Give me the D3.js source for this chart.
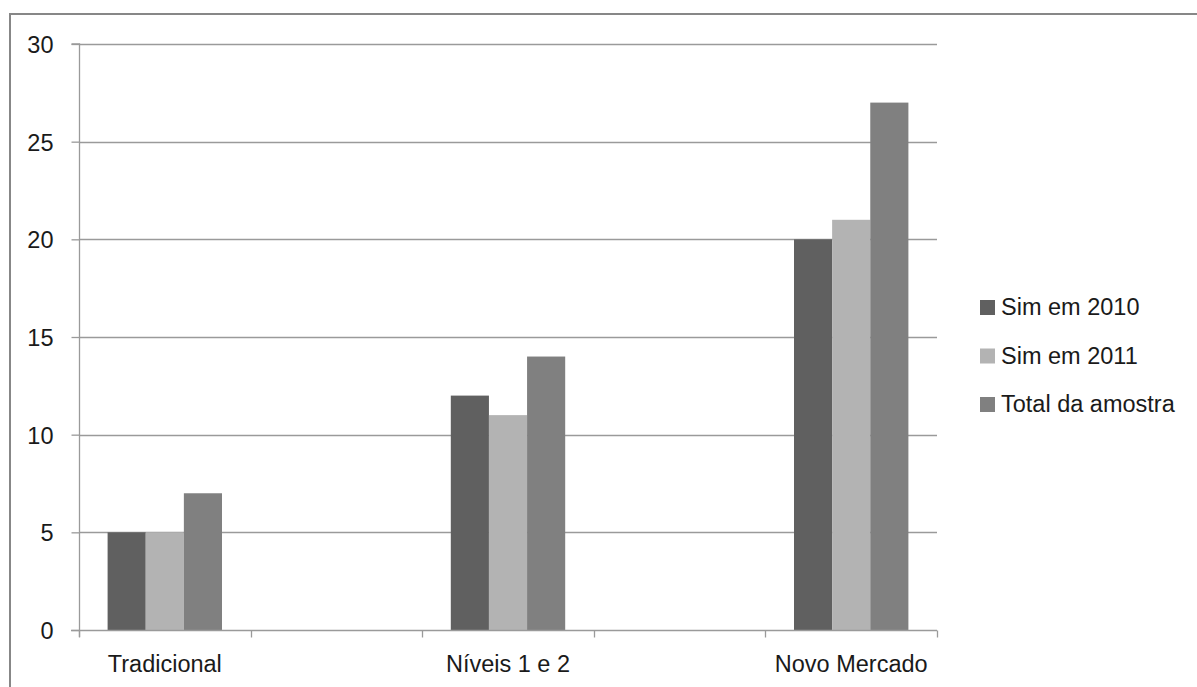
<!DOCTYPE html>
<html>
<head>
<meta charset="utf-8">
<script src="https://cdn.jsdelivr.net/npm/d3@7"></script>
<style>
  html, body { margin: 0; padding: 0; background: #fff; }
  svg { display: block; }
  text { font-family: "Liberation Sans", Arial, sans-serif; fill: #1a1a1a; }
</style>
</head>
<body>
<svg id="chart" width="1197" height="687"></svg>
<script>
// ---- data ----
const categories = ["Tradicional", "", "Níveis 1 e 2", " ", "Novo Mercado"];
const seriesNames = ["Sim em 2010", "Sim em 2011", "Total da amostra"];
const sim2010 = [5, null, 12, null, 20];
const sim2011 = [5, null, 11, null, 21];
const totalAmostra = [7, null, 14, null, 27];
const yTicks = [0, 5, 10, 15, 20, 25, 30];
const colors = ["#606060", "#b3b3b3", "#808080"];

const seriesValues = [sim2010, sim2011, totalAmostra];

(function () {
const svg = d3.select("#chart");
const W = 1197, H = 687;
const mLeft = 79, mRight = 937, mTop = 44, mBottom = 630;
const gridColor = "#9a9a9a";
const fs = 23.5;

// outer frame (extends past right/bottom edges)
svg.append("rect")
  .attr("x", 10).attr("y", 14)
  .attr("width", W + 20).attr("height", H + 20)
  .attr("fill", "none").attr("stroke", "#878787").attr("stroke-width", 2);

const x = d3.scaleBand().domain(categories).range([mLeft, mRight]).paddingInner(0).paddingOuter(0);
const y = d3.scaleLinear().domain([0, 30]).range([mBottom, mTop]);
const inner = d3.scaleBand().domain(seriesNames)
  .range([0, x.bandwidth()]).paddingOuter(0.75).paddingInner(0);

// gridlines
svg.append("g").selectAll("line").data(yTicks.filter(d => d > 0)).join("line")
  .attr("x1", mLeft).attr("x2", mRight)
  .attr("y1", d => Math.round(y(d)) + 0.5).attr("y2", d => Math.round(y(d)) + 0.5)
  .attr("stroke", gridColor).attr("stroke-width", 1.3);

// bars
const data = [];
categories.forEach((c, i) => {
  seriesNames.forEach((s, j) => {
    const v = seriesValues[j][i];
    if (v != null) data.push({ c, s, v, j });
  });
});
svg.append("g").selectAll("rect").data(data).join("rect")
  .attr("x", d => x(d.c) + inner(d.s))
  .attr("width", inner.bandwidth())
  .attr("y", d => y(d.v))
  .attr("height", d => y(0) - y(d.v))
  .attr("fill", d => colors[d.j]);

// y axis
const yAxis = d3.axisLeft(y).tickValues(yTicks).tickSize(8).tickPadding(18).tickFormat(d3.format("d"));
const gy = svg.append("g").attr("transform", `translate(${mLeft + 0.5},0)`).call(yAxis);
gy.select(".domain").attr("d", `M-8,${mTop}H0V${mBottom + 7}`).attr("stroke", gridColor).attr("stroke-width", 1.3);
gy.selectAll(".tick line").attr("stroke", gridColor).attr("stroke-width", 1.3);
gy.selectAll(".tick text").attr("font-size", fs).attr("font-family", "Liberation Sans, Arial, sans-serif").attr("fill", "#1a1a1a").attr("dy", "0.36em");

// x axis
const xAxis = d3.axisBottom(x).tickSize(0).tickPadding(0);
const gx = svg.append("g").attr("transform", `translate(0,${mBottom + 0.5})`).call(xAxis);
gx.select(".domain").attr("d", `M${mLeft - 8},0H${mRight}`).attr("stroke", gridColor).attr("stroke-width", 1.3);
gx.selectAll(".tick text").attr("font-size", fs).attr("font-family", "Liberation Sans, Arial, sans-serif")
  .attr("fill", "#1a1a1a").attr("y", 41).attr("dy", 0);
// category boundary tick marks
const bounds = categories.map(c => x(c)).concat([x(categories[categories.length - 1]) + x.bandwidth()]);
gx.append("g").selectAll("line").data(bounds).join("line")
  .attr("x1", d => Math.round(d) + 0.5).attr("x2", d => Math.round(d) + 0.5)
  .attr("y1", 0).attr("y2", 7)
  .attr("stroke", gridColor).attr("stroke-width", 1.3);

// legend
const lg = svg.append("g").attr("transform", "translate(980,300)");
const items = lg.selectAll("g").data(seriesNames).join("g")
  .attr("transform", (d, i) => `translate(0,${i * 48.5})`);
items.append("rect").attr("x", 0).attr("y", 0).attr("width", 15).attr("height", 15)
  .attr("fill", (d, i) => colors[i]);
items.append("text").attr("x", 21).attr("y", 15).attr("font-size", fs).text(d => d);
})();
</script>
</body>
</html>
